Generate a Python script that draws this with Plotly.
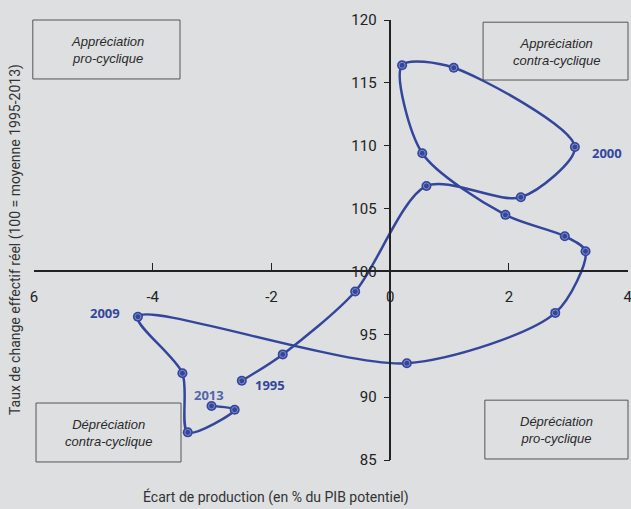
import plotly.graph_objects as go

years = list(range(1995, 2014))
output_gap = [-2.50, -1.81, -0.59, 0.61, 2.20, 3.11, 1.07, 0.20, 0.54, 1.94,
              2.94, 3.29, 2.78, 0.28, -4.25, -3.50, -3.41, -2.62, -3.01]
reer = [91.3, 93.4, 98.4, 106.8, 105.9, 109.9, 116.2, 116.4, 109.4, 104.5,
        102.8, 101.6, 96.7, 92.7, 96.4, 91.9, 87.2, 89.0, 89.3]

x_ticks = [-6, -4, -2, 0, 2, 4]
x_ticktext = ["6", "-4", "-2", "0", "2", "4"]
y_ticks = [85, 90, 95, 100, 105, 110, 115, 120]

labeled_years = {2000: (3.65, 109.44), 2009: (-4.80, 96.71),
                 1995: (-2.02, 90.93), 2013: (-3.06, 90.2)}
quadrants = [
    ("Appréciation<br>pro-cyclique", (-0.002, 0.866, 0.2458, 1.0), (0.1229, 0.932)),
    ("Appréciation<br>contra-cyclique", (0.756, 0.8636, 1.0, 0.995), (0.879, 0.927)),
    ("Dépréciation<br>contra-cyclique", (0.0034, -0.0045, 0.2475, 0.1295), (0.1246, 0.061)),
    ("Dépréciation<br>pro-cyclique", (0.759, 0.0023, 1.0, 0.136), (0.880, 0.068)),
]

BLUE = "#34469c"
BG = "#dddfe1"

fig = go.Figure()
fig.add_trace(go.Scatter(
    x=output_gap, y=reer, mode="lines",
    line=dict(color=BLUE, width=2.5, shape="spline", smoothing=0.8),
    hoverinfo="skip", showlegend=False, cliponaxis=False))
fig.add_trace(go.Scatter(
    x=output_gap, y=reer, mode="markers",
    marker=dict(color=BLUE, size=10, line=dict(width=0)),
    text=[str(y) for y in years], showlegend=False, cliponaxis=False))
fig.add_trace(go.Scatter(
    x=output_gap, y=reer, mode="markers",
    marker=dict(symbol="circle-open", color="#7f8cc8", size=6, line=dict(width=1)),
    hoverinfo="skip", showlegend=False, cliponaxis=False))

for yr, (ax, ay) in labeled_years.items():
    col = "#5565ad" if yr == 2013 else BLUE
    fig.add_annotation(x=ax, y=ay, text=f"<b>{yr}</b>", showarrow=False,
                       xanchor="center", yanchor="middle",
                       font=dict(family="Open Sans", size=13, color=col))

for txt, (x0, y0, x1, y1), (tx, ty) in quadrants:
    fig.add_shape(type="rect", xref="paper", yref="paper", x0=x0, y0=y0, x1=x1, y1=y1,
                  line=dict(color="#555555", width=1), fillcolor="rgba(0,0,0,0)", layer="below")
    fig.add_annotation(xref="paper", yref="paper", x=tx, y=ty, text=f"<i>{txt}</i>",
                       showarrow=False, align="center", xanchor="center", yanchor="middle",
                       font=dict(family="Liberation Sans", size=13, color="#2a2a2a"))

fig.add_annotation(xref="paper", yref="paper", x=(276 - 34) / 594, y=(460 - 497) / 440,
                   text="Écart de production (en % du PIB potentiel)", showarrow=False,
                   xanchor="center", yanchor="middle",
                   font=dict(family="Roboto", size=14, color="#333333"))
fig.add_annotation(xref="paper", yref="paper", x=(15 - 34) / 594, y=(460 - 240) / 440,
                   text="Taux de change effectif réel (100 = moyenne 1995-2013)", showarrow=False,
                   textangle=-90, xanchor="center", yanchor="middle",
                   font=dict(family="Roboto", size=14, color="#333333"))

fig.update_layout(
    width=631, height=509,
    margin=dict(l=34, r=3, t=20, b=49, autoexpand=False),
    paper_bgcolor=BG, plot_bgcolor=BG,
    font=dict(family="Roboto", size=15, color="#222222"),
    xaxis=dict(range=[-6, 4.005], anchor="free", position=(100 - 85) / 35,
               tickvals=x_ticks, ticktext=x_ticktext, ticks="inside", ticklen=8,
               tickcolor="#222222", showline=True, linecolor="#222222", linewidth=1.5,
               showgrid=False, zeroline=False, ticklabelstandoff=12, automargin=False,
               ticklabeloverflow="allow"),
    yaxis=dict(range=[85, 120], anchor="free", position=0.6,
               tickvals=y_ticks, ticks="outside", ticklen=6,
               tickcolor="#222222", showline=True, linecolor="#222222", linewidth=1.5,
               showgrid=False, zeroline=False, ticklabelstandoff=4, automargin=False,
               ticklabeloverflow="allow"),
)

fig.write_html("out.html", config={"displayModeBar": False},
               post_script="document.body.style.margin='0';")
